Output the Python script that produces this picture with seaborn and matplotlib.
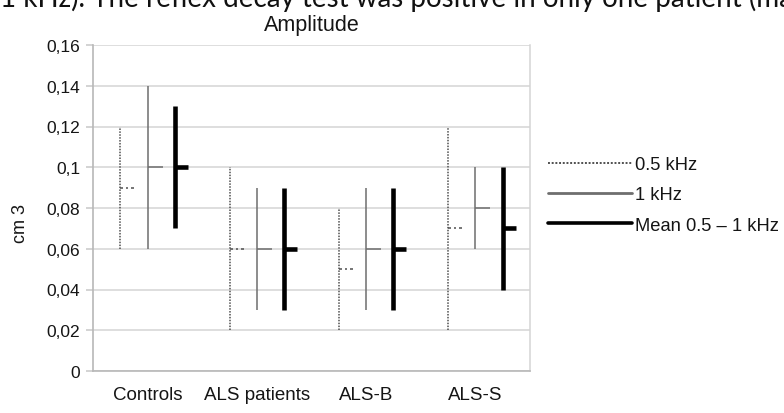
import pandas as pd
import matplotlib
matplotlib.use("Agg")
import matplotlib.pyplot as plt
from matplotlib.lines import Line2D
from matplotlib.markers import MarkerStyle
from matplotlib.path import Path
import seaborn as sns

# Data (low, high, close) per group and frequency
groups = ["Controls", "ALS patients", "ALS-B", "ALS-S"]
series = ["0.5 kHz", "1 kHz", "Mean 0.5 \u2013 1 kHz"]
low_05 = [0.06, 0.02, 0.02, 0.02]
high_05 = [0.12, 0.10, 0.08, 0.12]
close_05 = [0.09, 0.06, 0.05, 0.07]
low_1 = [0.06, 0.03, 0.03, 0.06]
high_1 = [0.14, 0.09, 0.09, 0.10]
close_1 = [0.10, 0.06, 0.06, 0.08]
low_m = [0.07, 0.03, 0.03, 0.04]
high_m = [0.13, 0.09, 0.09, 0.10]
close_m = [0.10, 0.06, 0.06, 0.07]
yticks = [0, 0.02, 0.04, 0.06, 0.08, 0.10, 0.12, 0.14, 0.16]
ytick_labels = ["0", "0,02", "0,04", "0,06", "0,08", "0,1", "0,12", "0,14", "0,16"]

# long table: three rows per group/series, median = close, min/max = range
rows = []
for name, lo, hi, cl in zip(series, [low_05, low_1, low_m], [high_05, high_1, high_m],
                            [close_05, close_1, close_m]):
    for g, a, b, c in zip(groups, lo, hi, cl):
        for v in (a, b, c):
            rows.append({"group": g, "series": name, "value": v})
df = pd.DataFrame(rows)

sns.set_style("white")
plt.rcParams["font.family"] = ["Liberation Sans", "DejaVu Sans"]

txt = "#151515"
grid_c = "#d4d4d4"
colors = {series[0]: "#505050", series[1]: "#6e6e6e", series[2]: "#000000"}
line_w = {series[0]: 1.1, series[1]: 1.1, series[2]: 3.3}
line_s = {series[0]: (0, (1.0, 0.9)), series[1]: "-", series[2]: "-"}
tick_w = {series[0]: 1.1, series[1]: 1.1, series[2]: 3.3}
tick_size = {series[0]: 20, series[1]: 21, series[2]: 19}

# right-pointing tick markers (the "close" of a high-low-close chart)
solid_tick = MarkerStyle(Path([(0, 0), (1, 0)], [Path.MOVETO, Path.LINETO]))
dot_tick = MarkerStyle(Path([(0, 0), (0.2, 0), (0.4, 0), (0.6, 0), (0.8, 0), (1, 0)],
                            [Path.MOVETO, Path.LINETO] * 3))
markers = {series[0]: dot_tick, series[1]: solid_tick, series[2]: solid_tick}

fig = plt.figure(figsize=(7.84, 4.14), dpi=100)
ax = fig.add_axes([93 / 784, 1 - 372 / 414, 437 / 784, 326 / 414])

sns.pointplot(data=df, x="group", y="value", hue="series", order=groups,
              hue_order=series, palette=colors, estimator="median",
              errorbar=("pi", 100), dodge=0.5, linestyle="none",
              markers="o", legend=False, ax=ax)

# restyle seaborn's artists per series (matched by colour)
inv = {matplotlib.colors.to_hex(c): k for k, c in colors.items()}
for ln in ax.lines:
    key = inv.get(matplotlib.colors.to_hex(ln.get_color()))
    if key is None:
        continue
    if ln.get_marker() not in (None, "None", "", " "):
        ln.set_marker(markers[key])
        ln.set_markersize(tick_size[key])
        ln.set_markeredgewidth(tick_w[key])
        ln.set_markeredgecolor(colors[key])
        ln.set_linestyle("none")
        ln.set_zorder(4)
    else:
        ln.set_linewidth(line_w[key])
        ln.set_linestyle(line_s[key])
        ln.set_solid_capstyle("butt")
        ln.set_zorder(3)

ax.set_xlim(-0.5, 3.5)
ax.set_ylim(0, 0.16)
ax.set_yticks(yticks)
ax.set_yticklabels(ytick_labels)
ax.set_xticks(range(len(groups)))
ax.set_xticklabels(groups)
ax.set_xticks([-0.5, 0.5, 1.5, 2.5, 3.5], minor=True)
ax.tick_params(axis="x", which="major", length=0, pad=11, labelsize=13.5, labelcolor=txt)
ax.tick_params(axis="x", which="minor", length=7, width=1.1, color="#bcbcbc", direction="out")
ax.tick_params(axis="y", length=5, width=1.1, color="#c8c8c8", labelsize=12.5,
               labelcolor=txt, pad=4.3, left=True)
ax.yaxis.grid(True, color=grid_c, linewidth=1.1)
ax.set_axisbelow(True)
for side in ["left", "bottom"]:
    ax.spines[side].set_color("#b8b8b8")
    ax.spines[side].set_linewidth(1.2)
ax.spines["right"].set_color(grid_c)
ax.spines["right"].set_linewidth(1.1)
ax.spines["top"].set_visible(False)
ax.set_xlabel("")
ax.set_ylabel("cm 3", fontsize=13, color=txt, va="center")
ax.yaxis.set_label_coords(-0.167, 0.454)

ax.set_title("Amplitude", fontsize=15.5, color=txt, pad=11)

handles = [Line2D([], [], color=colors[s], lw=w, ls=ls)
           for s, w, ls in zip(series, [1.4, 2.0, 2.6], [(0, (1.0, 0.9)), "-", "-"])]
fig.legend(handles, series, loc="center left", bbox_to_anchor=(548 / 784, 1 - 196 / 414),
           frameon=False, fontsize=13.2, handlelength=4.6, handletextpad=0.12,
           labelspacing=0.72, borderaxespad=0, borderpad=0, labelcolor=txt)

# line of body text cut off at the top of the crop
fig.text(0.0, 0.983, "1 kHz). The reflex decay test was positive in only one patient (ma",
         fontsize=20, family=["Lato", "DejaVu Sans"], va="baseline", ha="left", color="#111111")

fig.savefig("out.png", dpi=100)
